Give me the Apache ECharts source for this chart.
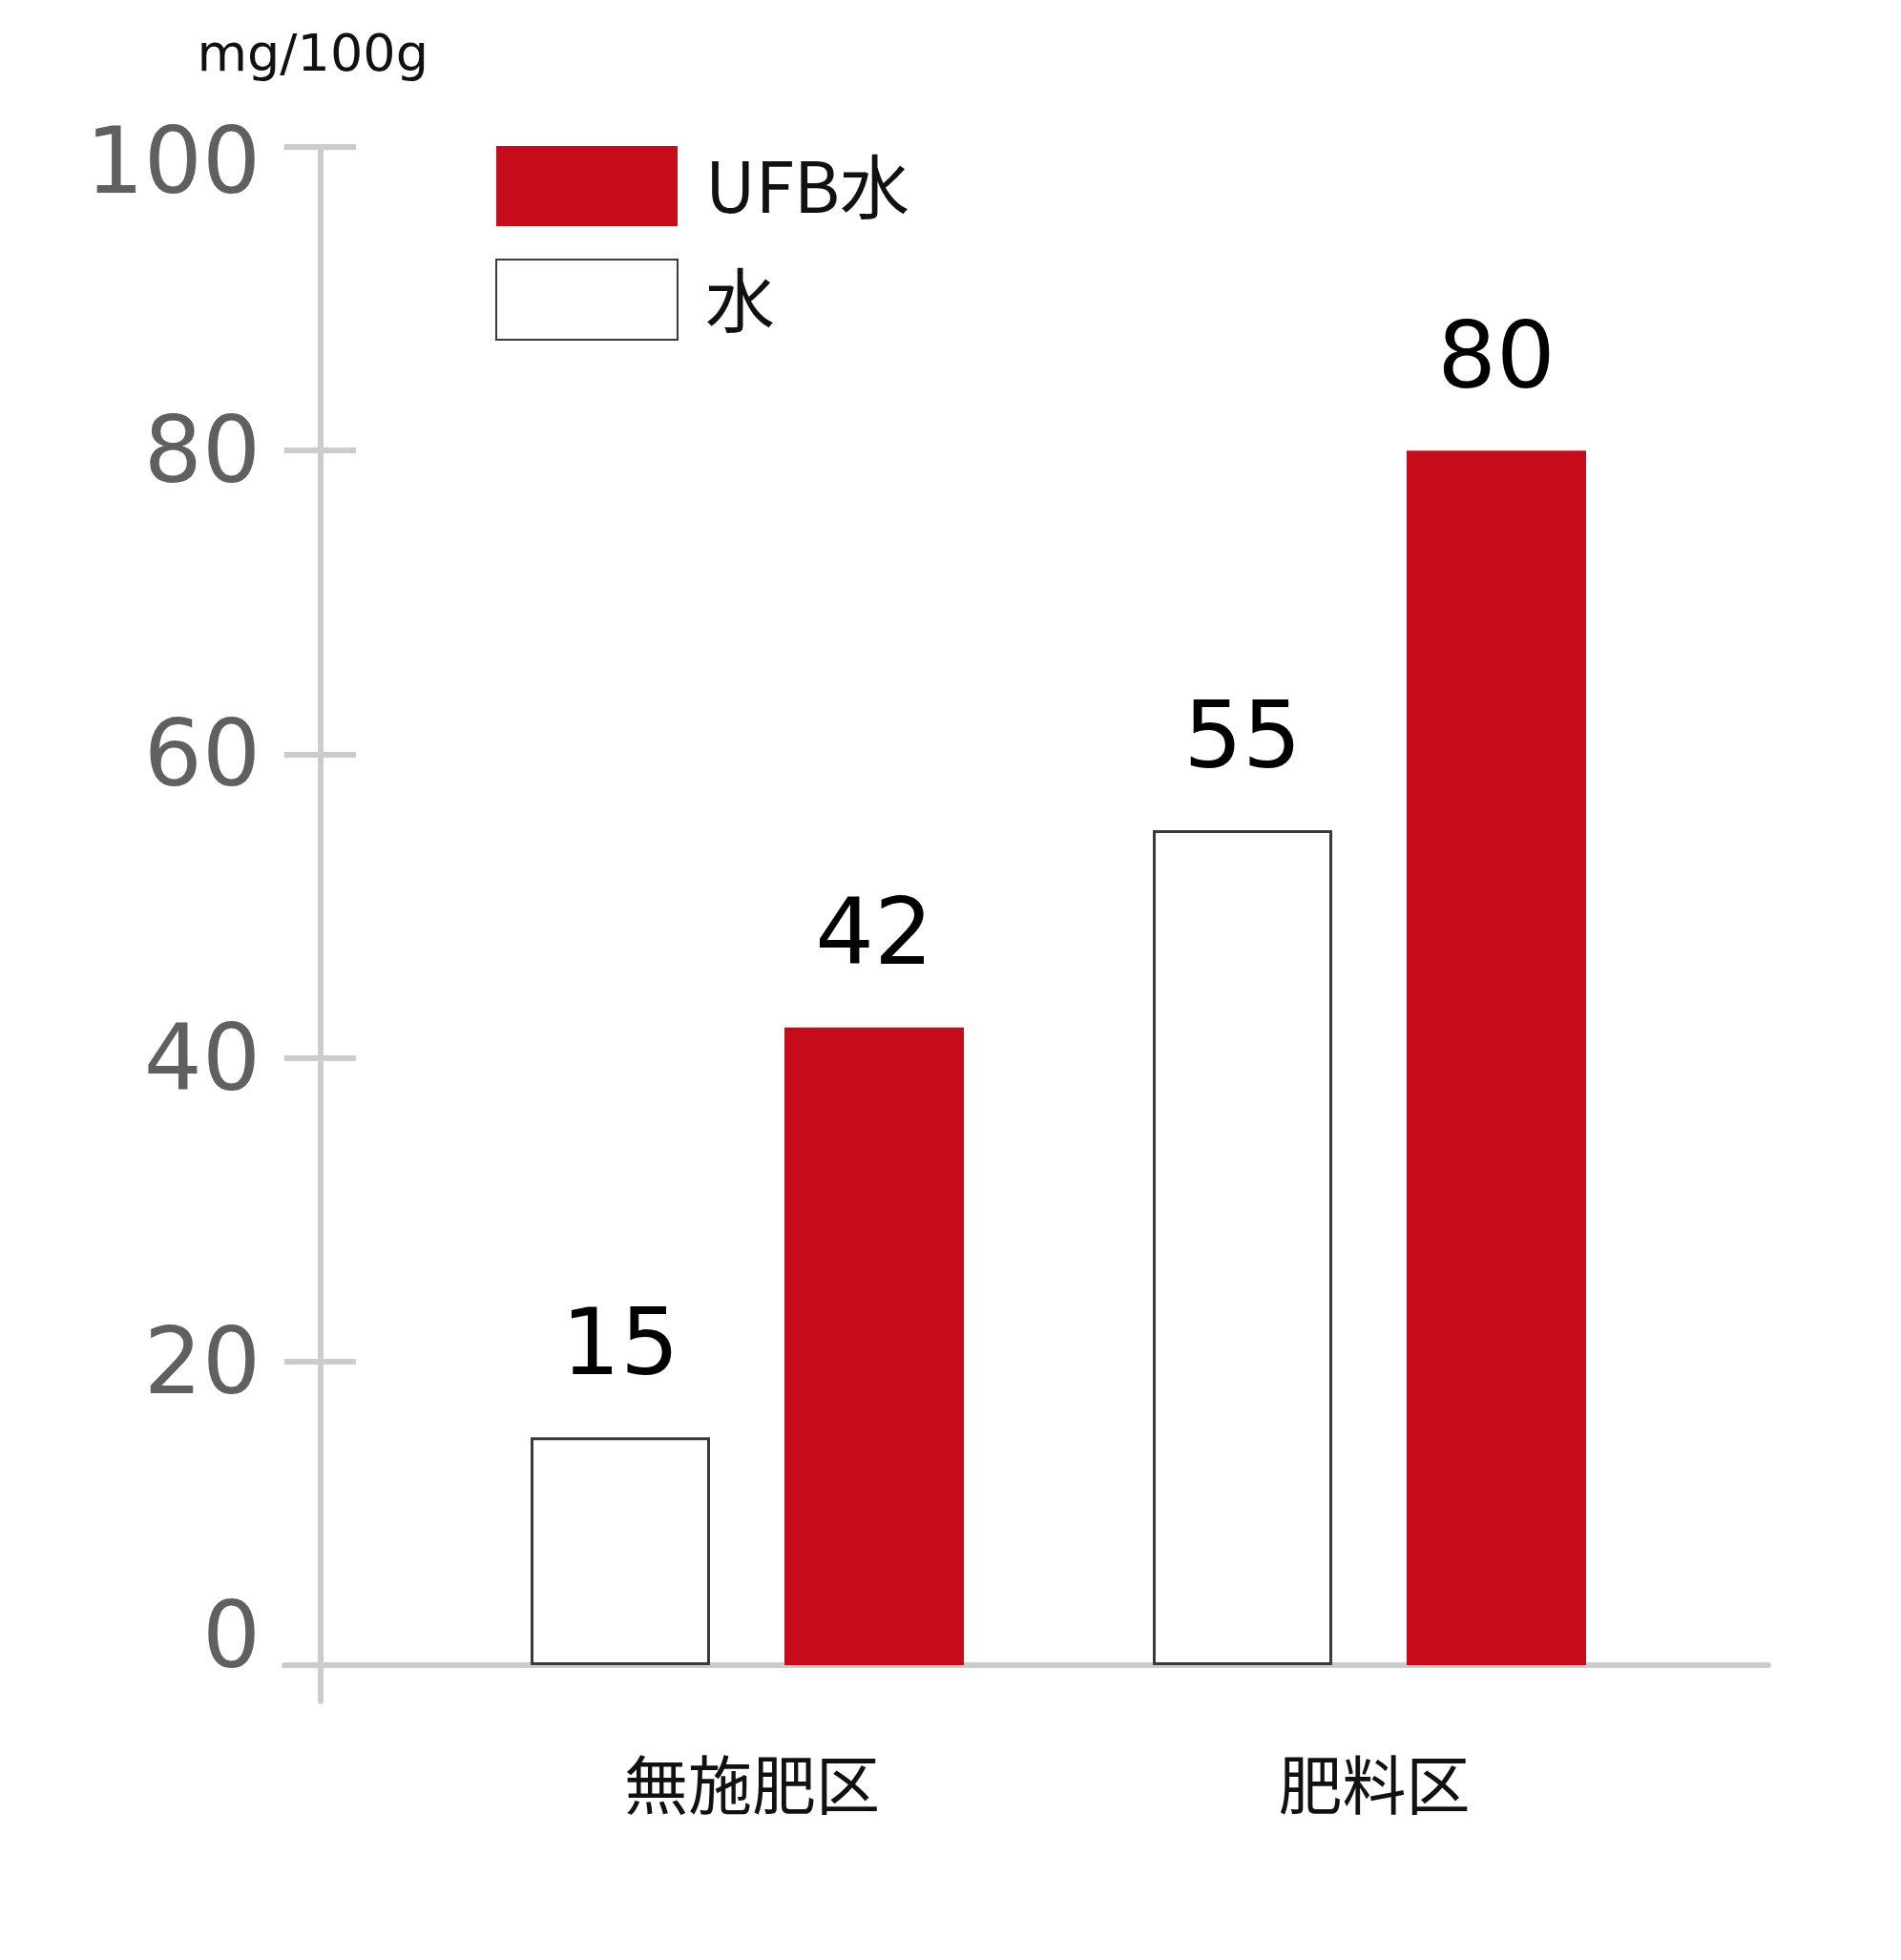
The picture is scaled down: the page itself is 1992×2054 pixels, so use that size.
<!DOCTYPE html>
<html>
<head>
<meta charset="utf-8">
<style>
  html, body { margin: 0; padding: 0; background: #ffffff; }
  #chart { width: 1992px; height: 2054px; }
</style>
<script src="https://cdn.jsdelivr.net/npm/echarts@6/dist/echarts.min.js"></script>
</head>
<body>
<div id="chart"></div>
<script>
const categories = ['無施肥区', '肥料区'];
const seriesNames = ['水', 'UFB水'];
const waterValues = [15, 55];
const ufbValues = [42, 80];
const yTicks = [0, 20, 40, 60, 80, 100];
const unitLabel = 'mg/100g';

const AXIS_GRAY = '#cccccc';
const RED = '#c60c1a';
const DIGIT_FONT = '"DejaVu Sans", Verdana, sans-serif';
const JP_FONT = '"Noto Sans CJK JP", "Noto Sans", sans-serif';

const chart = echarts.init(document.getElementById('chart'), null, { renderer: 'canvas' });

const valueLabel = {
  show: true,
  position: 'top',
  distance: 43,
  fontFamily: DIGIT_FONT,
  fontSize: 97,
  color: '#000000'
};

const tickLabelStyle = { fontFamily: DIGIT_FONT, fontSize: 96, color: '#606060' };

const option = {
  backgroundColor: '#ffffff',
  animation: false,
  legend: {
    data: [seriesNames[1], seriesNames[0]],
    orient: 'vertical',
    left: 519,
    top: 153,
    padding: 0,
    itemWidth: 190,
    itemHeight: 84,
    itemGap: 34,
    icon: 'rect',
    selectedMode: false,
    textStyle: {
      fontFamily: JP_FONT,
      fontSize: 73,
      color: '#111111',
      padding: [0, 0, 6, 24]
    }
  },
  grid: [
    { left: 457, right: 231, top: 154, bottom: 309 },
    { left: 298, right: 139, top: 154, bottom: 271 }
  ],
  xAxis: [
    {
      type: 'category',
      gridIndex: 0,
      data: categories,
      axisLine: { show: false },
      axisTick: { show: false },
      axisLabel: {
        margin: 92,
        fontFamily: JP_FONT,
        fontSize: 67,
        color: '#111111',
        padding: [0, 0, 0, 10]
      },
      splitLine: { show: false }
    },
    {
      type: 'value',
      gridIndex: 1,
      min: -37.7,
      max: 1517.3,
      axisLine: { show: true, onZero: true, lineStyle: { color: AXIS_GRAY, width: 6 } },
      axisTick: { show: false },
      axisLabel: { show: false },
      splitLine: { show: false }
    }
  ],
  yAxis: [
    {
      type: 'value',
      gridIndex: 0,
      min: yTicks[0],
      max: yTicks[yTicks.length - 1],
      interval: yTicks[1] - yTicks[0],
      offset: 84,
      axisLine: { show: false },
      axisTick: { show: true, inside: false, length: 75, lineStyle: { color: AXIS_GRAY, width: 6 } },
      splitLine: { show: false },
      axisLabel: {
        margin: 100,
        fontFamily: DIGIT_FONT,
        fontSize: 96,
        color: '#606060',
        formatter: function (v) {
          if (v === 0) return '{z|' + v + '}';
          if (v === 100) return '{t|' + v + '}';
          return '{n|' + v + '}';
        },
        rich: {
          z: Object.assign({ padding: [0, 0, 46, 0] }, tickLabelStyle),
          t: Object.assign({ padding: [46, 0, 0, 0] }, tickLabelStyle),
          n: Object.assign({ padding: [16, 0, 0, 0] }, tickLabelStyle)
        }
      }
    },
    {
      type: 'value',
      gridIndex: 1,
      min: -2.39,
      max: 100,
      name: unitLabel,
      nameLocation: 'end',
      nameGap: 67,
      nameTextStyle: {
        fontFamily: DIGIT_FONT,
        fontSize: 54,
        color: '#111111',
        padding: [0, 16, 0, 0]
      },
      axisLine: { show: true, onZero: true, lineStyle: { color: AXIS_GRAY, width: 6 } },
      axisTick: { show: false },
      axisLabel: { show: false },
      splitLine: { show: false }
    }
  ],
  series: [
    {
      name: seriesNames[0],
      type: 'bar',
      xAxisIndex: 0,
      yAxisIndex: 0,
      data: waterValues,
      barWidth: 188,
      barGap: '41.5%',
      itemStyle: { color: '#ffffff', borderColor: '#3a3a3a', borderWidth: 3 },
      label: valueLabel
    },
    {
      name: seriesNames[1],
      type: 'bar',
      xAxisIndex: 0,
      yAxisIndex: 0,
      data: ufbValues,
      barWidth: 188,
      barGap: '41.5%',
      itemStyle: { color: RED },
      label: valueLabel
    }
  ]
};

chart.setOption(option);
</script>
</body>
</html>
